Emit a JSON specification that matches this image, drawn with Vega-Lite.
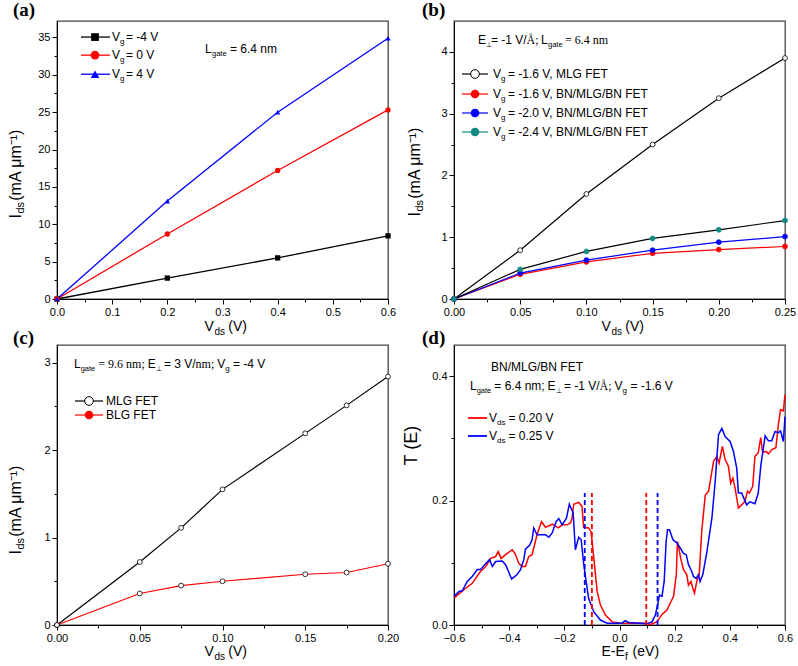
{
"$schema": "https://vega.github.io/schema/vega-lite/v6.json",
"padding": {"left": 6, "top": -1, "right": 4, "bottom": 4},
"datasets": {
"a": [
{"x":0,"y":0,"s":"m4"},{"x":0.2,"y":2.8,"s":"m4"},{"x":0.4,"y":5.5,"s":"m4"},{"x":0.6,"y":8.45,"s":"m4"},
{"x":0,"y":0,"s":"z"},{"x":0.2,"y":8.7,"s":"z"},{"x":0.4,"y":17.2,"s":"z"},{"x":0.6,"y":25.3,"s":"z"},
{"x":0,"y":0,"s":"p4"},{"x":0.2,"y":13.1,"s":"p4"},{"x":0.4,"y":25.0,"s":"p4"},{"x":0.6,"y":34.9,"s":"p4"}
],
"b": [
{"x":0,"y":0,"s":"mlg"},{"x":0.05,"y":0.79,"s":"mlg"},{"x":0.1,"y":1.70,"s":"mlg"},{"x":0.15,"y":2.50,"s":"mlg"},{"x":0.2,"y":3.25,"s":"mlg"},{"x":0.25,"y":3.90,"s":"mlg"},
{"x":0,"y":0,"s":"r"},{"x":0.05,"y":0.40,"s":"r"},{"x":0.1,"y":0.60,"s":"r"},{"x":0.15,"y":0.74,"s":"r"},{"x":0.2,"y":0.80,"s":"r"},{"x":0.25,"y":0.85,"s":"r"},
{"x":0,"y":0,"s":"bl"},{"x":0.05,"y":0.42,"s":"bl"},{"x":0.1,"y":0.63,"s":"bl"},{"x":0.15,"y":0.79,"s":"bl"},{"x":0.2,"y":0.92,"s":"bl"},{"x":0.25,"y":1.01,"s":"bl"},
{"x":0,"y":0,"s":"tl"},{"x":0.05,"y":0.48,"s":"tl"},{"x":0.1,"y":0.77,"s":"tl"},{"x":0.15,"y":0.98,"s":"tl"},{"x":0.2,"y":1.12,"s":"tl"},{"x":0.25,"y":1.27,"s":"tl"}
],
"c": [
{"x":0,"y":0,"s":"mlg"},{"x":0.05,"y":0.72,"s":"mlg"},{"x":0.075,"y":1.11,"s":"mlg"},{"x":0.1,"y":1.55,"s":"mlg"},{"x":0.15,"y":2.19,"s":"mlg"},{"x":0.175,"y":2.51,"s":"mlg"},{"x":0.2,"y":2.84,"s":"mlg"},
{"x":0,"y":0,"s":"blg"},{"x":0.05,"y":0.36,"s":"blg"},{"x":0.075,"y":0.45,"s":"blg"},{"x":0.1,"y":0.50,"s":"blg"},{"x":0.15,"y":0.58,"s":"blg"},{"x":0.175,"y":0.60,"s":"blg"},{"x":0.2,"y":0.70,"s":"blg"}
],
"d": [
{"x":-0.600,"y":0.043,"s":"r"},{"x":-0.582,"y":0.050,"s":"r"},{"x":-0.552,"y":0.061,"s":"r"},{"x":-0.534,"y":0.067,"s":"r"},{"x":-0.504,"y":0.086,"s":"r"},{"x":-0.485,"y":0.094,"s":"r"},{"x":-0.467,"y":0.107,"s":"r"},{"x":-0.449,"y":0.110,"s":"r"},{"x":-0.440,"y":0.118,"s":"r"},{"x":-0.429,"y":0.107,"s":"r"},{"x":-0.413,"y":0.113,"s":"r"},{"x":-0.389,"y":0.121,"s":"r"},{"x":-0.379,"y":0.115,"s":"r"},{"x":-0.365,"y":0.099,"s":"r"},{"x":-0.353,"y":0.094,"s":"r"},{"x":-0.341,"y":0.094,"s":"r"},{"x":-0.329,"y":0.110,"s":"r"},{"x":-0.317,"y":0.113,"s":"r"},{"x":-0.305,"y":0.134,"s":"r"},{"x":-0.299,"y":0.145,"s":"r"},{"x":-0.283,"y":0.166,"s":"r"},{"x":-0.268,"y":0.157,"s":"r"},{"x":-0.244,"y":0.162,"s":"r"},{"x":-0.222,"y":0.156,"s":"r"},{"x":-0.208,"y":0.161,"s":"r"},{"x":-0.190,"y":0.161,"s":"r"},{"x":-0.178,"y":0.164,"s":"r"},{"x":-0.172,"y":0.172,"s":"r"},{"x":-0.166,"y":0.194,"s":"r"},{"x":-0.148,"y":0.197,"s":"r"},{"x":-0.136,"y":0.191,"s":"r"},{"x":-0.130,"y":0.157,"s":"r"},{"x":-0.112,"y":0.156,"s":"r"},{"x":-0.103,"y":0.150,"s":"r"},{"x":-0.093,"y":0.107,"s":"r"},{"x":-0.081,"y":0.054,"s":"r"},{"x":-0.069,"y":0.032,"s":"r"},{"x":-0.051,"y":0.016,"s":"r"},{"x":-0.027,"y":0.005,"s":"r"},{"x":0.003,"y":0.003,"s":"r"},{"x":0.051,"y":0.003,"s":"r"},{"x":0.093,"y":0.003,"s":"r"},{"x":0.112,"y":0.001,"s":"r"},{"x":0.136,"y":0.005,"s":"r"},{"x":0.154,"y":0.017,"s":"r"},{"x":0.172,"y":0.024,"s":"r"},{"x":0.196,"y":0.046,"s":"r"},{"x":0.206,"y":0.081,"s":"r"},{"x":0.210,"y":0.134,"s":"r"},{"x":0.214,"y":0.126,"s":"r"},{"x":0.222,"y":0.107,"s":"r"},{"x":0.232,"y":0.089,"s":"r"},{"x":0.244,"y":0.081,"s":"r"},{"x":0.250,"y":0.064,"s":"r"},{"x":0.259,"y":0.070,"s":"r"},{"x":0.266,"y":0.059,"s":"r"},{"x":0.272,"y":0.051,"s":"r"},{"x":0.280,"y":0.070,"s":"r"},{"x":0.289,"y":0.081,"s":"r"},{"x":0.298,"y":0.150,"s":"r"},{"x":0.311,"y":0.209,"s":"r"},{"x":0.323,"y":0.215,"s":"r"},{"x":0.341,"y":0.263,"s":"r"},{"x":0.353,"y":0.271,"s":"r"},{"x":0.361,"y":0.260,"s":"r"},{"x":0.373,"y":0.287,"s":"r"},{"x":0.383,"y":0.266,"s":"r"},{"x":0.395,"y":0.255,"s":"r"},{"x":0.403,"y":0.228,"s":"r"},{"x":0.411,"y":0.236,"s":"r"},{"x":0.419,"y":0.220,"s":"r"},{"x":0.431,"y":0.188,"s":"r"},{"x":0.443,"y":0.193,"s":"r"},{"x":0.455,"y":0.199,"s":"r"},{"x":0.464,"y":0.215,"s":"r"},{"x":0.471,"y":0.212,"s":"r"},{"x":0.483,"y":0.223,"s":"r"},{"x":0.491,"y":0.271,"s":"r"},{"x":0.503,"y":0.277,"s":"r"},{"x":0.512,"y":0.301,"s":"r"},{"x":0.519,"y":0.277,"s":"r"},{"x":0.531,"y":0.279,"s":"r"},{"x":0.540,"y":0.275,"s":"r"},{"x":0.552,"y":0.282,"s":"r"},{"x":0.567,"y":0.285,"s":"r"},{"x":0.576,"y":0.322,"s":"r"},{"x":0.584,"y":0.346,"s":"r"},{"x":0.594,"y":0.344,"s":"r"},{"x":0.600,"y":0.370,"s":"r"},
{"x":-0.600,"y":0.046,"s":"b"},{"x":-0.582,"y":0.054,"s":"b"},{"x":-0.570,"y":0.055,"s":"b"},{"x":-0.552,"y":0.070,"s":"b"},{"x":-0.534,"y":0.078,"s":"b"},{"x":-0.516,"y":0.089,"s":"b"},{"x":-0.504,"y":0.089,"s":"b"},{"x":-0.485,"y":0.099,"s":"b"},{"x":-0.471,"y":0.105,"s":"b"},{"x":-0.461,"y":0.094,"s":"b"},{"x":-0.449,"y":0.102,"s":"b"},{"x":-0.425,"y":0.103,"s":"b"},{"x":-0.413,"y":0.097,"s":"b"},{"x":-0.391,"y":0.074,"s":"b"},{"x":-0.371,"y":0.081,"s":"b"},{"x":-0.359,"y":0.089,"s":"b"},{"x":-0.347,"y":0.105,"s":"b"},{"x":-0.341,"y":0.122,"s":"b"},{"x":-0.326,"y":0.128,"s":"b"},{"x":-0.317,"y":0.137,"s":"b"},{"x":-0.311,"y":0.156,"s":"b"},{"x":-0.299,"y":0.145,"s":"b"},{"x":-0.268,"y":0.145,"s":"b"},{"x":-0.256,"y":0.141,"s":"b"},{"x":-0.244,"y":0.148,"s":"b"},{"x":-0.230,"y":0.166,"s":"b"},{"x":-0.220,"y":0.171,"s":"b"},{"x":-0.208,"y":0.161,"s":"b"},{"x":-0.192,"y":0.172,"s":"b"},{"x":-0.182,"y":0.194,"s":"b"},{"x":-0.168,"y":0.180,"s":"b"},{"x":-0.160,"y":0.121,"s":"b"},{"x":-0.148,"y":0.141,"s":"b"},{"x":-0.139,"y":0.137,"s":"b"},{"x":-0.130,"y":0.099,"s":"b"},{"x":-0.121,"y":0.070,"s":"b"},{"x":-0.112,"y":0.043,"s":"b"},{"x":-0.093,"y":0.021,"s":"b"},{"x":-0.069,"y":0.008,"s":"b"},{"x":-0.045,"y":0.003,"s":"b"},{"x":-0.009,"y":0.003,"s":"b"},{"x":0.009,"y":0.003,"s":"b"},{"x":0.021,"y":0.007,"s":"b"},{"x":0.033,"y":0.004,"s":"b"},{"x":0.099,"y":0.002,"s":"b"},{"x":0.118,"y":0.005,"s":"b"},{"x":0.130,"y":0.016,"s":"b"},{"x":0.138,"y":0.032,"s":"b"},{"x":0.145,"y":0.048,"s":"b"},{"x":0.154,"y":0.046,"s":"b"},{"x":0.162,"y":0.070,"s":"b"},{"x":0.169,"y":0.134,"s":"b"},{"x":0.174,"y":0.153,"s":"b"},{"x":0.181,"y":0.153,"s":"b"},{"x":0.194,"y":0.137,"s":"b"},{"x":0.208,"y":0.132,"s":"b"},{"x":0.220,"y":0.124,"s":"b"},{"x":0.232,"y":0.115,"s":"b"},{"x":0.242,"y":0.113,"s":"b"},{"x":0.250,"y":0.097,"s":"b"},{"x":0.262,"y":0.086,"s":"b"},{"x":0.268,"y":0.078,"s":"b"},{"x":0.278,"y":0.075,"s":"b"},{"x":0.286,"y":0.081,"s":"b"},{"x":0.292,"y":0.070,"s":"b"},{"x":0.302,"y":0.081,"s":"b"},{"x":0.317,"y":0.118,"s":"b"},{"x":0.335,"y":0.172,"s":"b"},{"x":0.347,"y":0.231,"s":"b"},{"x":0.359,"y":0.306,"s":"b"},{"x":0.371,"y":0.316,"s":"b"},{"x":0.383,"y":0.303,"s":"b"},{"x":0.401,"y":0.295,"s":"b"},{"x":0.413,"y":0.279,"s":"b"},{"x":0.425,"y":0.252,"s":"b"},{"x":0.431,"y":0.212,"s":"b"},{"x":0.443,"y":0.212,"s":"b"},{"x":0.461,"y":0.193,"s":"b"},{"x":0.473,"y":0.198,"s":"b"},{"x":0.491,"y":0.195,"s":"b"},{"x":0.503,"y":0.212,"s":"b"},{"x":0.512,"y":0.255,"s":"b"},{"x":0.528,"y":0.304,"s":"b"},{"x":0.540,"y":0.296,"s":"b"},{"x":0.552,"y":0.296,"s":"b"},{"x":0.564,"y":0.311,"s":"b"},{"x":0.576,"y":0.309,"s":"b"},{"x":0.584,"y":0.312,"s":"b"},{"x":0.594,"y":0.295,"s":"b"},{"x":0.600,"y":0.335,"s":"b"}
],
"dl": [{"x":-0.126,"s":"b"},{"x":0.138,"s":"b"},{"x":-0.100,"s":"r"},{"x":0.097,"s":"r"}]
},
"columns": 2,
"spacing": {"row": 46, "column": 66},
"bounds": "flush",
"concat": [
{
"width": 331, "height": 278,
"title": {"text": "(a)", "dx": -44, "dy": 2.5},
"layer": [
{"data": {"values": [{}]}, "layer": [
{"data": {"name": "a"}, "mark": {"type": "line", "strokeWidth": 1.3},
 "encoding": {
  "x": {"field": "x", "type": "quantitative", "scale": {"domain": [0, 0.6], "nice": false},
   "axis": {"values": [0,0.05,0.1,0.15,0.2,0.25,0.3,0.35,0.4,0.45,0.5,0.55,0.6], "tickCount": 100, "labelOverlap": false,
    "labelExpr": "round(datum.value*100) % 10 == 0 ? format(datum.value, '.1f') : ''",
    "labelFontSize": {"condition": {"test": "round(datum.value*100) % 10 == 0", "value": 11}, "value": 0},
    "tickSize": {"condition": {"test": "round(datum.value*100) % 10 == 0", "value": 5}, "value": 3},
    "title": "V\u00a0\u00a0\u00a0\u2009(V)", "titleX": 147, "titleY": 31, "titleAlign": "left", "titleBaseline": "alphabetic"}},
  "y": {"field": "y", "type": "quantitative", "scale": {"domain": [0, 37.2], "nice": false},
   "axis": {"values": [0,2.5,5,7.5,10,12.5,15,17.5,20,22.5,25,27.5,30,32.5,35], "tickCount": 100, "labelOverlap": false,
    "labelExpr": "datum.value % 5 == 0 ? format(datum.value, 'd') : ''",
    "labelFontSize": {"condition": {"test": "datum.value % 5 == 0", "value": 11}, "value": 0},
    "tickSize": {"condition": {"test": "datum.value % 5 == 0", "value": 5}, "value": 3},
    "title": "I\u00a0\u00a0\u00a0(mA μm⁻¹)", "titleFontSize": 16, "titleX": -37, "titleY": 197, "titleAngle": -90, "titleAlign": "left", "titleBaseline": "alphabetic"}},
  "color": {"field": "s", "type": "nominal", "scale": {"domain": ["m4","z","p4"], "range": ["#000000","#ff0000","#0000ff"]}, "legend": null}
 }},
{"data": {"name": "a"}, "mark": {"type": "point", "filled": true, "size": 28, "opacity": 1},
 "encoding": {
  "x": {"field": "x", "type": "quantitative"}, "y": {"field": "y", "type": "quantitative"},
  "color": {"field": "s", "type": "nominal", "scale": {"domain": ["m4","z","p4"], "range": ["#000000","#ff0000","#0000ff"]}, "legend": null},
  "shape": {"field": "s", "type": "nominal", "scale": {"domain": ["m4","z","p4"], "range": ["square","circle","triangle-up"]}, "legend": null}
 }},
{"mark": {"type": "rule", "color": "#000000", "strokeWidth": 1.3}, "encoding": {"x": {"datum": 0.0435}, "x2": {"datum": 0.0961}, "y": {"datum": 35.05}}},
{"mark": {"type": "point", "shape": "square", "filled": true, "color": "#000000", "size": 60, "opacity": 1}, "encoding": {"x": {"datum": 0.0689}, "y": {"datum": 35.05}}},
{"mark": {"type": "text", "text": "V"}, "encoding": {"x": {"datum": 0.0997}, "y": {"datum": 35.05}}},
{"mark": {"type": "text", "text": "g", "fontSize": 8, "dx": 8, "dy": 5}, "encoding": {"x": {"datum": 0.0997}, "y": {"datum": 35.05}}},
{"mark": {"type": "text", "text": "= -4 V", "dx": 14}, "encoding": {"x": {"datum": 0.0997}, "y": {"datum": 35.05}}},
{"mark": {"type": "rule", "color": "#ff0000", "strokeWidth": 1.3}, "encoding": {"x": {"datum": 0.0435}, "x2": {"datum": 0.0961}, "y": {"datum": 32.63}}},
{"mark": {"type": "point", "shape": "circle", "filled": true, "color": "#ff0000", "size": 75, "opacity": 1}, "encoding": {"x": {"datum": 0.0689}, "y": {"datum": 32.63}}},
{"mark": {"type": "text", "text": "V"}, "encoding": {"x": {"datum": 0.0997}, "y": {"datum": 32.63}}},
{"mark": {"type": "text", "text": "g", "fontSize": 8, "dx": 8, "dy": 5}, "encoding": {"x": {"datum": 0.0997}, "y": {"datum": 32.63}}},
{"mark": {"type": "text", "text": "= 0 V", "dx": 14}, "encoding": {"x": {"datum": 0.0997}, "y": {"datum": 32.63}}},
{"mark": {"type": "rule", "color": "#0000ff", "strokeWidth": 1.3}, "encoding": {"x": {"datum": 0.0435}, "x2": {"datum": 0.0961}, "y": {"datum": 30.08}}},
{"mark": {"type": "point", "shape": "triangle-up", "filled": true, "color": "#0000ff", "size": 75, "opacity": 1}, "encoding": {"x": {"datum": 0.0689}, "y": {"datum": 30.08}}},
{"mark": {"type": "text", "text": "V"}, "encoding": {"x": {"datum": 0.0997}, "y": {"datum": 30.08}}},
{"mark": {"type": "text", "text": "g", "fontSize": 8, "dx": 8, "dy": 5}, "encoding": {"x": {"datum": 0.0997}, "y": {"datum": 30.08}}},
{"mark": {"type": "text", "text": "= 4 V", "dx": 14}, "encoding": {"x": {"datum": 0.0997}, "y": {"datum": 30.08}}},
{"mark": {"type": "text", "text": "L", "baseline": "alphabetic"}, "encoding": {"x": {"datum": 0.2683}, "y": {"datum": 32.9}}},
{"mark": {"type": "text", "text": "gate", "baseline": "alphabetic", "fontSize": 7.5, "dx": 7, "dy": 3}, "encoding": {"x": {"datum": 0.2683}, "y": {"datum": 32.9}}},
{"mark": {"type": "text", "text": "= 6.4 nm", "baseline": "alphabetic", "dx": 25}, "encoding": {"x": {"datum": 0.2683}, "y": {"datum": 32.9}}}
]},
{"data": {"values": [{"x": 0, "y": 0}]}, "mark": {"type": "point", "opacity": 0},
 "encoding": {
  "x": {"field": "x", "type": "quantitative", "axis": {"orient": "top", "domain": false, "ticks": false, "labels": false, "title": "ds", "titleFontSize": 10, "titleX": 157, "titleY": 313, "titleAlign": "left", "titleBaseline": "alphabetic", "titleAngle": 0}},
  "y": {"field": "y", "type": "quantitative", "axis": {"orient": "right", "domain": false, "ticks": false, "labels": false, "title": "ds", "titleFontSize": 11, "titleX": -365, "titleY": 192, "titleAngle": -90, "titleAlign": "left", "titleBaseline": "alphabetic"}}
 }}
],
"resolve": {"axis": {"x": "independent", "y": "independent"}}
},
{
"width": 331, "height": 278,
"title": {"text": "(b)", "dx": -32, "dy": 2.5},
"layer": [
{"data": {"values": [{}]}, "layer": [
{"data": {"name": "b"}, "mark": {"type": "line", "strokeWidth": 1.2},
 "encoding": {
  "x": {"field": "x", "type": "quantitative", "scale": {"domain": [0, 0.25], "nice": false},
   "axis": {"values": [0,0.025,0.05,0.075,0.1,0.125,0.15,0.175,0.2,0.225,0.25], "tickCount": 100, "labelOverlap": false,
    "labelExpr": "round(datum.value*1000) % 50 == 0 ? format(datum.value, '.2f') : ''",
    "labelFontSize": {"condition": {"test": "round(datum.value*1000) % 50 == 0", "value": 11}, "value": 0},
    "tickSize": {"condition": {"test": "round(datum.value*1000) % 50 == 0", "value": 5}, "value": 3},
    "title": "V\u00a0\u00a0\u00a0\u2009(V)", "titleX": 147, "titleY": 31, "titleAlign": "left", "titleBaseline": "alphabetic"}},
  "y": {"field": "y", "type": "quantitative", "scale": {"domain": [0, 4.5], "nice": false},
   "axis": {"values": [0,0.5,1,1.5,2,2.5,3,3.5,4], "tickCount": 100, "labelOverlap": false,
    "labelExpr": "round(datum.value*10) % 10 == 0 ? format(datum.value, 'd') : ''",
    "labelFontSize": {"condition": {"test": "round(datum.value*10) % 10 == 0", "value": 11}, "value": 0},
    "tickSize": {"condition": {"test": "round(datum.value*10) % 10 == 0", "value": 5}, "value": 3},
    "title": "I\u00a0\u00a0\u00a0(mA μm⁻¹)", "titleFontSize": 16, "titleX": -35, "titleY": 195, "titleAngle": -90, "titleAlign": "left", "titleBaseline": "alphabetic"}},
  "color": {"field": "s", "type": "nominal", "scale": {"domain": ["mlg","r","bl","tl"], "range": ["#000000","#ff0000","#0000ff","#138a80"]}, "legend": null}
 }},
{"data": {"name": "b"}, "mark": {"type": "point", "filled": true, "shape": "circle", "size": 24, "strokeWidth": 0.8, "opacity": 1},
 "encoding": {
  "x": {"field": "x", "type": "quantitative"}, "y": {"field": "y", "type": "quantitative"},
  "fill": {"field": "s", "type": "nominal", "scale": {"domain": ["mlg","r","bl","tl"], "range": ["#ffffff","#ff0000","#0000ff","#138a80"]}, "legend": null},
  "stroke": {"field": "s", "type": "nominal", "scale": {"domain": ["mlg","r","bl","tl"], "range": ["#000000","#ff0000","#0000ff","#138a80"]}, "legend": null}
 }},
{"mark": {"type": "rule", "color": "#000000", "strokeWidth": 1.2}, "encoding": {"x": {"datum": 0.00604}, "x2": {"datum": 0.02568}, "y": {"datum": 3.642}}},
{"mark": {"type": "point", "shape": "circle", "filled": true, "fill": "#ffffff", "stroke": "#000000", "strokeWidth": 1, "size": 75, "opacity": 1}, "encoding": {"x": {"datum": 0.01586}, "y": {"datum": 3.642}}},
{"mark": {"type": "text", "text": "V"}, "encoding": {"x": {"datum": 0.02946}, "y": {"datum": 3.642}}},
{"mark": {"type": "text", "text": "g", "fontSize": 8, "dx": 8, "dy": 5}, "encoding": {"x": {"datum": 0.02946}, "y": {"datum": 3.642}}},
{"mark": {"type": "text", "text": "= -1.6 V, MLG FET", "dx": 15}, "encoding": {"x": {"datum": 0.02946}, "y": {"datum": 3.642}}},
{"mark": {"type": "rule", "color": "#ff0000", "strokeWidth": 1.2}, "encoding": {"x": {"datum": 0.00604}, "x2": {"datum": 0.02568}, "y": {"datum": 3.318}}},
{"mark": {"type": "point", "shape": "circle", "filled": true, "color": "#ff0000", "size": 75, "opacity": 1}, "encoding": {"x": {"datum": 0.01586}, "y": {"datum": 3.318}}},
{"mark": {"type": "text", "text": "V"}, "encoding": {"x": {"datum": 0.02946}, "y": {"datum": 3.318}}},
{"mark": {"type": "text", "text": "g", "fontSize": 8, "dx": 8, "dy": 5}, "encoding": {"x": {"datum": 0.02946}, "y": {"datum": 3.318}}},
{"mark": {"type": "text", "text": "= -1.6 V, BN/MLG/BN FET", "dx": 15}, "encoding": {"x": {"datum": 0.02946}, "y": {"datum": 3.318}}},
{"mark": {"type": "rule", "color": "#0000ff", "strokeWidth": 1.2}, "encoding": {"x": {"datum": 0.00604}, "x2": {"datum": 0.02568}, "y": {"datum": 3.011}}},
{"mark": {"type": "point", "shape": "circle", "filled": true, "color": "#0000ff", "size": 75, "opacity": 1}, "encoding": {"x": {"datum": 0.01586}, "y": {"datum": 3.011}}},
{"mark": {"type": "text", "text": "V"}, "encoding": {"x": {"datum": 0.02946}, "y": {"datum": 3.011}}},
{"mark": {"type": "text", "text": "g", "fontSize": 8, "dx": 8, "dy": 5}, "encoding": {"x": {"datum": 0.02946}, "y": {"datum": 3.011}}},
{"mark": {"type": "text", "text": "= -2.0 V, BN/MLG/BN FET", "dx": 15}, "encoding": {"x": {"datum": 0.02946}, "y": {"datum": 3.011}}},
{"mark": {"type": "rule", "color": "#138a80", "strokeWidth": 1.2}, "encoding": {"x": {"datum": 0.00604}, "x2": {"datum": 0.02568}, "y": {"datum": 2.703}}},
{"mark": {"type": "point", "shape": "circle", "filled": true, "color": "#138a80", "size": 75, "opacity": 1}, "encoding": {"x": {"datum": 0.01586}, "y": {"datum": 2.703}}},
{"mark": {"type": "text", "text": "V"}, "encoding": {"x": {"datum": 0.02946}, "y": {"datum": 2.703}}},
{"mark": {"type": "text", "text": "g", "fontSize": 8, "dx": 8, "dy": 5}, "encoding": {"x": {"datum": 0.02946}, "y": {"datum": 2.703}}},
{"mark": {"type": "text", "text": "= -2.4 V, BN/MLG/BN FET", "dx": 15}, "encoding": {"x": {"datum": 0.02946}, "y": {"datum": 2.703}}},
{"mark": {"type": "text", "text": "E", "baseline": "alphabetic"}, "encoding": {"x": {"datum": 0.01813}, "y": {"datum": 4.128}}},
{"mark": {"type": "text", "text": "⊥", "baseline": "alphabetic", "fontSize": 7, "dx": 8, "dy": 3}, "encoding": {"x": {"datum": 0.01813}, "y": {"datum": 4.128}}},
{"mark": {"type": "text", "text": "= -1 V/", "baseline": "alphabetic", "dx": 13}, "encoding": {"x": {"datum": 0.01813}, "y": {"datum": 4.128}}},
{"mark": {"type": "text", "text": "Å;", "baseline": "alphabetic", "font": "Liberation Serif", "dx": 48.6}, "encoding": {"x": {"datum": 0.01813}, "y": {"datum": 4.128}}},
{"mark": {"type": "text", "text": "L", "baseline": "alphabetic", "dx": 63}, "encoding": {"x": {"datum": 0.01813}, "y": {"datum": 4.128}}},
{"mark": {"type": "text", "text": "gate", "baseline": "alphabetic", "fontSize": 7.5, "dx": 70, "dy": 3}, "encoding": {"x": {"datum": 0.01813}, "y": {"datum": 4.128}}},
{"mark": {"type": "text", "text": "= 6.4 nm", "baseline": "alphabetic", "font": "Liberation Serif", "dx": 87}, "encoding": {"x": {"datum": 0.01813}, "y": {"datum": 4.128}}}
]},
{"data": {"values": [{"x": 0, "y": 0}]}, "mark": {"type": "point", "opacity": 0},
 "encoding": {
  "x": {"field": "x", "type": "quantitative", "axis": {"orient": "top", "domain": false, "ticks": false, "labels": false, "title": "ds", "titleFontSize": 10, "titleX": 157, "titleY": 313, "titleAlign": "left", "titleBaseline": "alphabetic", "titleAngle": 0}},
  "y": {"field": "y", "type": "quantitative", "axis": {"orient": "right", "domain": false, "ticks": false, "labels": false, "title": "ds", "titleFontSize": 11, "titleX": -363, "titleY": 190, "titleAngle": -90, "titleAlign": "left", "titleBaseline": "alphabetic"}}
 }}
],
"resolve": {"axis": {"x": "independent", "y": "independent"}}
},
{
"width": 331, "height": 280,
"title": {"text": "(c)", "dx": -44, "dy": 7},
"layer": [
{"data": {"values": [{}]}, "layer": [
{"data": {"name": "c"}, "mark": {"type": "line", "strokeWidth": 1.2},
 "encoding": {
  "x": {"field": "x", "type": "quantitative", "scale": {"domain": [0, 0.2], "nice": false},
   "axis": {"values": [0,0.025,0.05,0.075,0.1,0.125,0.15,0.175,0.2], "tickCount": 100, "labelOverlap": false,
    "labelExpr": "round(datum.value*1000) % 50 == 0 ? format(datum.value, '.2f') : ''",
    "labelFontSize": {"condition": {"test": "round(datum.value*1000) % 50 == 0", "value": 11}, "value": 0},
    "tickSize": {"condition": {"test": "round(datum.value*1000) % 50 == 0", "value": 5}, "value": 3},
    "title": "V\u00a0\u00a0\u00a0\u2009(V)", "titleX": 147, "titleY": 30, "titleAlign": "left", "titleBaseline": "alphabetic"}},
  "y": {"field": "y", "type": "quantitative", "scale": {"domain": [0, 3.2], "nice": false},
   "axis": {"values": [0,0.5,1,1.5,2,2.5,3], "tickCount": 100, "labelOverlap": false,
    "labelExpr": "round(datum.value*10) % 10 == 0 ? format(datum.value, 'd') : ''",
    "labelFontSize": {"condition": {"test": "round(datum.value*10) % 10 == 0", "value": 11}, "value": 0},
    "tickSize": {"condition": {"test": "round(datum.value*10) % 10 == 0", "value": 5}, "value": 3},
    "title": "I\u00a0\u00a0\u00a0(mA μm⁻¹)", "titleFontSize": 16, "titleX": -37, "titleY": 209, "titleAngle": -90, "titleAlign": "left", "titleBaseline": "alphabetic"}},
  "color": {"field": "s", "type": "nominal", "scale": {"domain": ["mlg","blg"], "range": ["#000000","#ff0000"]}, "legend": null}
 }},
{"data": {"name": "c"}, "mark": {"type": "point", "filled": true, "shape": "circle", "size": 24, "strokeWidth": 0.8, "opacity": 1},
 "encoding": {
  "x": {"field": "x", "type": "quantitative"}, "y": {"field": "y", "type": "quantitative"},
  "fill": {"field": "s", "type": "nominal", "scale": {"domain": ["mlg","blg"], "range": ["#ffffff","#ff0000"]}, "legend": null},
  "stroke": {"field": "s", "type": "nominal", "scale": {"domain": ["mlg","blg"], "range": ["#000000","#ff0000"]}, "legend": null}
 }},
{"mark": {"type": "rule", "color": "#000000", "strokeWidth": 1.2}, "encoding": {"x": {"datum": 0.01088}, "x2": {"datum": 0.02779}, "y": {"datum": 2.56}}},
{"mark": {"type": "point", "shape": "circle", "filled": true, "fill": "#ffffff", "stroke": "#000000", "strokeWidth": 1, "size": 75, "opacity": 1}, "encoding": {"x": {"datum": 0.01934}, "y": {"datum": 2.56}}},
{"mark": {"type": "text", "text": "MLG FET"}, "encoding": {"x": {"datum": 0.02961}, "y": {"datum": 2.56}}},
{"mark": {"type": "rule", "color": "#ff0000", "strokeWidth": 1.2}, "encoding": {"x": {"datum": 0.01088}, "x2": {"datum": 0.02779}, "y": {"datum": 2.40}}},
{"mark": {"type": "point", "shape": "circle", "filled": true, "color": "#ff0000", "size": 75, "opacity": 1}, "encoding": {"x": {"datum": 0.01934}, "y": {"datum": 2.40}}},
{"mark": {"type": "text", "text": "BLG FET"}, "encoding": {"x": {"datum": 0.02961}, "y": {"datum": 2.40}}},
{"mark": {"type": "text", "text": "L", "baseline": "alphabetic"}, "encoding": {"x": {"datum": 0.01027}, "y": {"datum": 2.937}}},
{"mark": {"type": "text", "text": "gate", "baseline": "alphabetic", "fontSize": 7.5, "dx": 6.7, "dy": 3}, "encoding": {"x": {"datum": 0.01027}, "y": {"datum": 2.937}}},
{"mark": {"type": "text", "text": "= 9.6 nm;", "baseline": "alphabetic", "font": "Liberation Serif", "dx": 24.3}, "encoding": {"x": {"datum": 0.01027}, "y": {"datum": 2.937}}},
{"mark": {"type": "text", "text": "E", "baseline": "alphabetic", "dx": 73.7}, "encoding": {"x": {"datum": 0.01027}, "y": {"datum": 2.937}}},
{"mark": {"type": "text", "text": "⊥", "baseline": "alphabetic", "fontSize": 7, "dx": 81.7, "dy": 3}, "encoding": {"x": {"datum": 0.01027}, "y": {"datum": 2.937}}},
{"mark": {"type": "text", "text": "= 3 V/", "baseline": "alphabetic", "dx": 90}, "encoding": {"x": {"datum": 0.01027}, "y": {"datum": 2.937}}},
{"mark": {"type": "text", "text": "nm;", "baseline": "alphabetic", "font": "Liberation Serif", "dx": 121.6}, "encoding": {"x": {"datum": 0.01027}, "y": {"datum": 2.937}}},
{"mark": {"type": "text", "text": "V", "baseline": "alphabetic", "dx": 143.3}, "encoding": {"x": {"datum": 0.01027}, "y": {"datum": 2.937}}},
{"mark": {"type": "text", "text": "g", "baseline": "alphabetic", "fontSize": 8, "dx": 151.3, "dy": 3}, "encoding": {"x": {"datum": 0.01027}, "y": {"datum": 2.937}}},
{"mark": {"type": "text", "text": "= -4 V", "baseline": "alphabetic", "dx": 159}, "encoding": {"x": {"datum": 0.01027}, "y": {"datum": 2.937}}}
]},
{"data": {"values": [{"x": 0, "y": 0}]}, "mark": {"type": "point", "opacity": 0},
 "encoding": {
  "x": {"field": "x", "type": "quantitative", "axis": {"orient": "top", "domain": false, "ticks": false, "labels": false, "title": "ds", "titleFontSize": 10, "titleX": 157, "titleY": 314, "titleAlign": "left", "titleBaseline": "alphabetic", "titleAngle": 0}},
  "y": {"field": "y", "type": "quantitative", "axis": {"orient": "right", "domain": false, "ticks": false, "labels": false, "title": "ds", "titleFontSize": 11, "titleX": -365, "titleY": 204, "titleAngle": -90, "titleAlign": "left", "titleBaseline": "alphabetic"}}
 }}
],
"resolve": {"axis": {"x": "independent", "y": "independent"}}
},
{
"width": 331, "height": 280,
"title": {"text": "(d)", "dx": -32, "dy": 7},
"layer": [
{"data": {"values": [{}]}, "layer": [
{"data": {"name": "d"}, "mark": {"type": "line", "strokeWidth": 1.5},
 "encoding": {
  "x": {"field": "x", "type": "quantitative", "scale": {"domain": [-0.6, 0.6], "nice": false},
   "axis": {"values": [-0.6,-0.5,-0.4,-0.3,-0.2,-0.1,0,0.1,0.2,0.3,0.4,0.5,0.6], "tickCount": 100, "labelOverlap": false,
    "labelExpr": "round(datum.value*10) % 2 == 0 ? format(datum.value, '.1f') : ''",
    "labelFontSize": {"condition": {"test": "round(datum.value*10) % 2 == 0", "value": 11}, "value": 0},
    "tickSize": {"condition": {"test": "round(datum.value*10) % 2 == 0", "value": 5}, "value": 3},
    "title": "E-E\u00a0\u00a0(eV)", "titleX": 147, "titleY": 30, "titleAlign": "left", "titleBaseline": "alphabetic"}},
  "y": {"field": "y", "type": "quantitative", "scale": {"domain": [0, 0.45], "nice": false},
   "axis": {"values": [0,0.1,0.2,0.3,0.4], "tickCount": 100, "labelOverlap": false,
    "labelExpr": "round(datum.value*10) % 2 == 0 ? format(datum.value, '.1f') : ''",
    "labelFontSize": {"condition": {"test": "round(datum.value*10) % 2 == 0", "value": 11}, "value": 0},
    "tickSize": {"condition": {"test": "round(datum.value*10) % 2 == 0", "value": 5}, "value": 3},
    "title": "T (E)", "titleFontSize": 18, "titleX": -38, "titleY": 120, "titleAngle": -90, "titleAlign": "left", "titleBaseline": "alphabetic"}},
  "color": {"field": "s", "type": "nominal", "scale": {"domain": ["r","b"], "range": ["#ff0000","#0000ff"]}, "legend": null}
 }},
{"data": {"name": "dl"}, "mark": {"type": "rule", "strokeWidth": 1.8, "strokeDash": [5, 3]},
 "encoding": {
  "x": {"field": "x", "type": "quantitative"}, "y": {"datum": 0}, "y2": {"datum": 0.212},
  "color": {"field": "s", "type": "nominal", "scale": {"domain": ["r","b"], "range": ["#ff0000","#0000ff"]}, "legend": null}
 }},
{"mark": {"type": "text", "text": "BN/MLG/BN FET", "baseline": "alphabetic"}, "encoding": {"x": {"datum": -0.4659}, "y": {"datum": 0.4082}}},
{"mark": {"type": "text", "text": "L", "baseline": "alphabetic"}, "encoding": {"x": {"datum": -0.5420}, "y": {"datum": 0.3777}}},
{"mark": {"type": "text", "text": "gate", "baseline": "alphabetic", "fontSize": 7.5, "dx": 6.7, "dy": 3}, "encoding": {"x": {"datum": -0.5420}, "y": {"datum": 0.3777}}},
{"mark": {"type": "text", "text": "= 6.4 nm;", "baseline": "alphabetic", "dx": 24.3}, "encoding": {"x": {"datum": -0.5420}, "y": {"datum": 0.3777}}},
{"mark": {"type": "text", "text": "E", "baseline": "alphabetic", "dx": 77.6}, "encoding": {"x": {"datum": -0.5420}, "y": {"datum": 0.3777}}},
{"mark": {"type": "text", "text": "⊥", "baseline": "alphabetic", "fontSize": 7, "dx": 85.6, "dy": 3}, "encoding": {"x": {"datum": -0.5420}, "y": {"datum": 0.3777}}},
{"mark": {"type": "text", "text": "= -1 V/", "baseline": "alphabetic", "dx": 94}, "encoding": {"x": {"datum": -0.5420}, "y": {"datum": 0.3777}}},
{"mark": {"type": "text", "text": "Å;", "baseline": "alphabetic", "font": "Liberation Serif", "dx": 129.6}, "encoding": {"x": {"datum": -0.5420}, "y": {"datum": 0.3777}}},
{"mark": {"type": "text", "text": "V", "baseline": "alphabetic", "dx": 144.6}, "encoding": {"x": {"datum": -0.5420}, "y": {"datum": 0.3777}}},
{"mark": {"type": "text", "text": "g", "baseline": "alphabetic", "fontSize": 8, "dx": 152.6, "dy": 3}, "encoding": {"x": {"datum": -0.5420}, "y": {"datum": 0.3777}}},
{"mark": {"type": "text", "text": "= -1.6 V", "baseline": "alphabetic", "dx": 160.4}, "encoding": {"x": {"datum": -0.5420}, "y": {"datum": 0.3777}}},
{"mark": {"type": "rule", "color": "#ff0000", "strokeWidth": 1.8}, "encoding": {"x": {"datum": -0.5492}, "x2": {"datum": -0.4804}, "y": {"datum": 0.3327}}},
{"mark": {"type": "text", "text": "V"}, "encoding": {"x": {"datum": -0.4731}, "y": {"datum": 0.3327}}},
{"mark": {"type": "text", "text": "ds", "fontSize": 8, "dx": 8, "dy": 5}, "encoding": {"x": {"datum": -0.4731}, "y": {"datum": 0.3327}}},
{"mark": {"type": "text", "text": "= 0.20 V", "dx": 19.5}, "encoding": {"x": {"datum": -0.4731}, "y": {"datum": 0.3327}}},
{"mark": {"type": "rule", "color": "#0000ff", "strokeWidth": 1.8}, "encoding": {"x": {"datum": -0.5492}, "x2": {"datum": -0.4804}, "y": {"datum": 0.3038}}},
{"mark": {"type": "text", "text": "V"}, "encoding": {"x": {"datum": -0.4731}, "y": {"datum": 0.3038}}},
{"mark": {"type": "text", "text": "ds", "fontSize": 8, "dx": 8, "dy": 5}, "encoding": {"x": {"datum": -0.4731}, "y": {"datum": 0.3038}}},
{"mark": {"type": "text", "text": "= 0.25 V", "dx": 19.5}, "encoding": {"x": {"datum": -0.4731}, "y": {"datum": 0.3038}}}
]},
{"data": {"values": [{"x": 0, "y": 0}]}, "mark": {"type": "point", "opacity": 0},
 "encoding": {
  "x": {"field": "x", "type": "quantitative", "axis": {"orient": "top", "domain": false, "ticks": false, "labels": false, "title": "f", "titleFontSize": 10, "titleX": 170.5, "titleY": 314, "titleAlign": "left", "titleBaseline": "alphabetic", "titleAngle": 0}},
  "y": {"field": "y", "type": "quantitative", "axis": null}
 }}
],
"resolve": {"axis": {"x": "independent", "y": "independent"}}
}
],
"config": {
 "view": {"stroke": "#444444", "strokeWidth": 1.3},
 "axis": {"labelFont": "Liberation Sans", "labelFontSize": 11, "labelColor": "#000000", "labelPadding": 2, "labelOverlap": false, "labelFlush": false,
  "titleFont": "Liberation Sans", "titleFontSize": 14, "titleFontWeight": "normal", "titleColor": "#000000",
  "domainColor": "#000000", "domainWidth": 1, "tickColor": "#000000", "tickWidth": 1, "grid": false},
 "title": {"font": "Liberation Serif", "fontSize": 19, "fontWeight": "bold", "anchor": "start", "frame": "group", "color": "#000000", "baseline": "alphabetic", "offset": 0},
 "text": {"font": "Liberation Sans", "fontSize": 12, "color": "#000000", "align": "left", "baseline": "middle"}
}
}
